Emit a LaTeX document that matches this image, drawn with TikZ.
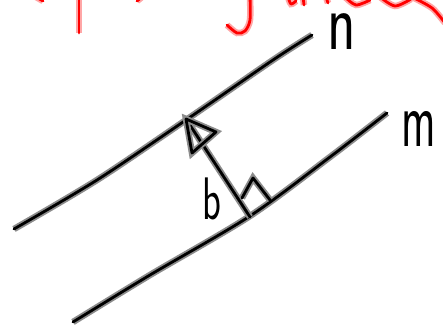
\documentclass[tikz,border=0pt]{standalone}
\usepackage{tikz}
\usetikzlibrary{positioning}

\begin{document}
\begin{tikzpicture}[x=1pt, y=-1pt,
    ink/.style={line width=2.8pt, line cap=round, line join=round,
        preaction={draw=black!45, line width=6.5pt}},
    redink/.style={red, line width=2.8pt, line cap=round, line join=round,
        preaction={draw=red!35, line width=6.5pt}},
    hand/.style={inner sep=0pt, font=\fontsize{#1}{#1}\selectfont\sffamily}]
    \useasboundingbox (0,0) rectangle (443,329);

    % cut-off heading
    \draw[redink] (79,-3) -- (79,33);
    \draw[redink] (36,-3) -- (43,1);
    \draw[redink] (137,1) -- (142,-3);
    \draw[redink] plot[smooth] coordinates {(250,-3) (250,20) (245,31) (237,33) (227,25)};
    \draw[redink] plot[smooth] coordinates {(288,-3) (291,4) (296,1)};
    \draw[redink] (303,-3) -- (304,5);
    \draw[redink] (326,-3) -- (328,3);
    \draw[redink] plot[smooth] coordinates {(345,-3) (356,5) (370,0)};
    \draw[redink] plot[smooth] coordinates {(380,-3) (395,6) (411,-1)};
    \draw[redink] plot[smooth] coordinates {(412,-3) (432,8) (445,23)};

    % the two parallels
    \draw[ink] plot[smooth] coordinates {(14,229) (97,180) (186,120) (273,60) (312,35)};
    \draw[ink] plot[smooth] coordinates {(73,322) (150,275) (250,216) (330,157) (387,113)};
    \node[hand=82] (n) at (342,32) {\scalebox{0.72}[1]{n}};
    \node[hand=80] (m) at (419,129) {\scalebox{0.58}[1]{m}};

    % the perpendicular
    \coordinate (foot) at (250,217);
    \coordinate (tip) at (186,119);
    \draw[ink] (foot) -- (tip);
    \draw[ink] (tip) -- (216,132) -- (192,153) -- cycle;
    \draw[ink] (242,198) -- (253,178) -- (270,200);
    \node[hand=60] (b) at (212,199) {\scalebox{0.65}[1]{b}};
\end{tikzpicture}
\end{document}
